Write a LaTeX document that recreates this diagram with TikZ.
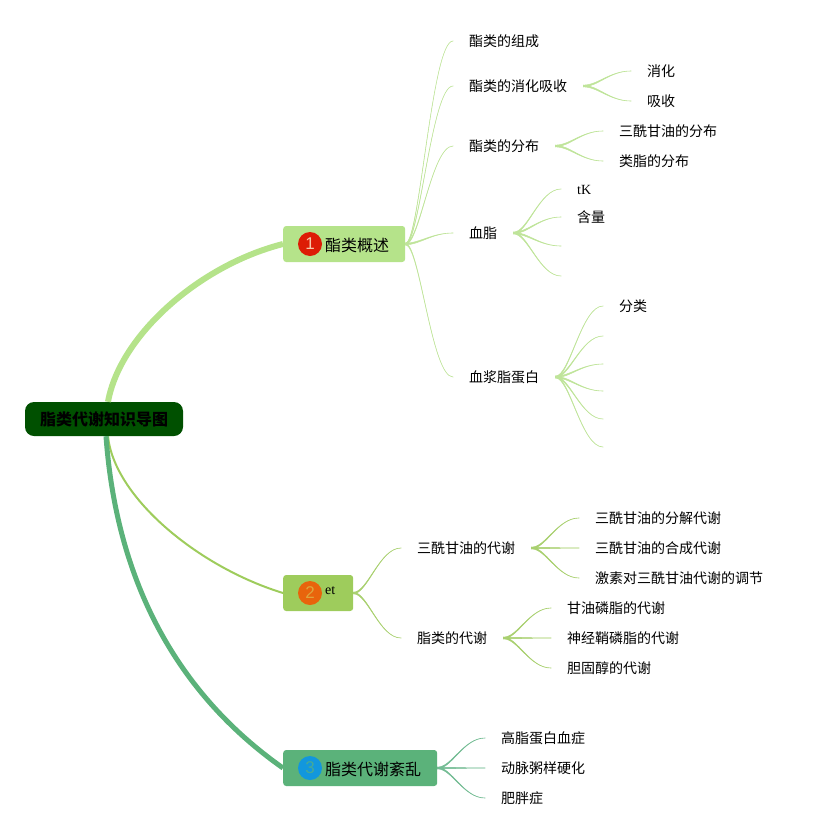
\documentclass[tikz,border=0pt]{standalone}
\usepackage{fontspec}
\setmainfont{Noto Sans CJK SC}
\newfontfamily\latinserif{Liberation Serif}
\newfontfamily\badgefont{Liberation Sans}
\usetikzlibrary{calc}
\definecolor{rootc}{HTML}{005000}
\definecolor{cone}{HTML}{B5E38A}
\definecolor{ctwo}{HTML}{9ECC5C}
\definecolor{cthree}{HTML}{5BB27A}
\definecolor{lone}{HTML}{BFE49A}
\definecolor{ltwo}{HTML}{A9D070}
\definecolor{lthree}{HTML}{74BC94}
\tikzset{
  rootbox/.style={fill=rootc,rounded corners=9pt,minimum width=158pt,minimum height=34pt,inner sep=0pt,font=\fontsize{16}{18}\selectfont\bfseries},
  topicbox/.style={rounded corners=3pt,minimum height=36pt,inner sep=0pt,anchor=west},
  badge/.style={circle,minimum size=24pt,inner sep=0pt,font=\fontsize{17}{18}\badgefont},
  topictext/.style={anchor=west,inner sep=0pt,font=\fontsize{16}{18}\selectfont,text height=13pt,text depth=2pt},
  leaf/.style={anchor=west,inner xsep=16pt,inner ysep=0pt,font=\fontsize{14}{16}\selectfont,text height=13pt,text depth=2.5pt},
  mainbranch/.style={line cap=butt},
}
% tapered connector between two nodes
\newcommand{\conn}[3]{%
  \filldraw[#3,line width=0.5pt] let \p1=(#1.east),\p2=(#2.west),\n1={\x2-\x1} in
    (\x1,\y1+0.8pt) .. controls (\x1+0.3*\n1,\y1+0.8pt) and (\x1+0.55*\n1,\y2+0.05pt) .. (\x2,\y2+0.05pt)
    -- (\x2,\y2-0.05pt) .. controls (\x1+0.55*\n1,\y2-0.05pt) and (\x1+0.3*\n1,\y1-0.8pt) .. (\x1,\y1-0.8pt) -- cycle;}
\begin{document}
\begin{tikzpicture}[x=1pt,y=-1pt]
\useasboundingbox (0,0) rectangle (823,838);
% root and topics
\node[rootbox] (root) at (104,419) {脂类代谢知识导图};
\node[topicbox,fill=cone,minimum width=122pt] (t1) at (283,244) {};
\node[badge,fill={rgb,255:red,221;green,28;blue,6},text={rgb,255:red,245;green,200;blue,170}] (b1) at (310,244) {1};
\node[topictext] (x1) at (325,246) {酯类概述};
\node[topicbox,fill=ctwo,minimum width=70pt] (t2) at (283,593) {};
\node[badge,fill={rgb,255:red,232;green,100;blue,12},text={rgb,255:red,222;green,165;blue,60}] (b2) at (310,593) {2};
\node[anchor=west,inner sep=0pt,font=\fontsize{14}{16}\latinserif] (x2) at (325,591) {et};
\node[topicbox,fill=cthree,minimum width=154pt] (t3) at (283,768) {};
\node[badge,fill={rgb,255:red,18;green,151;blue,221},text={rgb,255:red,70;green,170;blue,150}] (b3) at (310,768) {3};
\node[topictext] (x3) at (325,770) {脂类代谢紊乱};
% main branches
\draw[cone,line width=6pt,mainbranch] ([xshift=4pt]root.north) .. controls (120,335) and (200,265) .. (t1.west);
\draw[ctwo,line width=2pt,mainbranch] ([xshift=4pt]root.south) .. controls (114,497) and (198,567) .. (t2.west);
\draw[cthree,line width=5pt,mainbranch] ([xshift=2pt]root.south) .. controls (118,601) and (192,704) .. (t3.west);
% level 2, branch 1
\node[leaf] (a1) at (453,41) {酯类的组成};
\node[leaf] (a2) at (453,86) {酯类的消化吸收};
\node[leaf] (a3) at (453,146) {酯类的分布};
\node[leaf] (a4) at (453,233) {血脂};
\node[leaf] (a5) at (453,377) {血浆脂蛋白};
\foreach \q in {a1,a2,a3,a4,a5} {\conn{t1}{\q}{lone}}
\node[leaf] (a21) at (631,71) {消化};
\node[leaf] (a22) at (631,101) {吸收};
\foreach \q in {a21,a22} {\conn{a2}{\q}{lone}}
\node[leaf] (a31) at (603,131) {三酰甘油的分布};
\node[leaf] (a32) at (603,161) {类脂的分布};
\foreach \q in {a31,a32} {\conn{a3}{\q}{lone}}
\node[leaf,font=\fontsize{14}{16}\latinserif] (a41) at (561,189) {tK};
\node[leaf] (a42) at (561,217) {含量};
\node[leaf] (a43) at (561,246) {};
\node[leaf] (a44) at (561,276) {};
\foreach \q in {a41,a42,a43,a44} {\conn{a4}{\q}{lone}}
\node[leaf] (a51) at (603,306) {分类};
\node[leaf] (a52) at (603,336) {};
\node[leaf] (a53) at (603,364) {};
\node[leaf] (a54) at (603,391) {};
\node[leaf] (a55) at (603,419) {};
\node[leaf] (a56) at (603,447) {};
\foreach \q in {a51,a52,a53,a54,a55,a56} {\conn{a5}{\q}{lone}}
% level 2, branch 2
\node[leaf] (c1) at (401,548) {三酰甘油的代谢};
\node[leaf] (c2) at (401,638) {脂类的代谢};
\foreach \q in {c1,c2} {\conn{t2}{\q}{ltwo}}
\node[leaf] (c11) at (579,518) {三酰甘油的分解代谢};
\node[leaf] (c12) at (579,548) {三酰甘油的合成代谢};
\node[leaf] (c13) at (579,578) {激素对三酰甘油代谢的调节};
\foreach \q in {c11,c12,c13} {\conn{c1}{\q}{ltwo}}
\node[leaf] (c21) at (551,608) {甘油磷脂的代谢};
\node[leaf] (c22) at (551,638) {神经鞘磷脂的代谢};
\node[leaf] (c23) at (551,668) {胆固醇的代谢};
\foreach \q in {c21,c22,c23} {\conn{c2}{\q}{ltwo}}
% level 2, branch 3
\node[leaf] (d1) at (485,738) {高脂蛋白血症};
\node[leaf] (d2) at (485,768) {动脉粥样硬化};
\node[leaf] (d3) at (485,798) {肥胖症};
\foreach \q in {d1,d2,d3} {\conn{t3}{\q}{lthree}}
\end{tikzpicture}
\end{document}
